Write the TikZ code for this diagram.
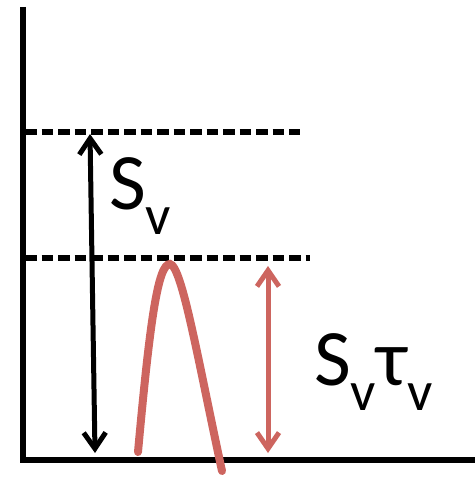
\documentclass[tikz,border=0pt]{standalone}
\usepackage{fontspec}
\setmainfont{Carlito}
\usetikzlibrary{arrows.meta}
\definecolor{curvered}{RGB}{205,101,95}
\tikzset{
  axisline/.style={line width=6pt},
  levelline/.style={line width=5.5pt, dash pattern=on 11.5pt off 5pt},
  gapdouble/.style={line width=5pt, {Straight Barb[length=16pt,width=22pt]}-{Straight Barb[length=16pt,width=22pt]}},
  lbl/.style={inner sep=0pt, anchor=base west, font=\fontsize{80}{82}\selectfont}
}
\newcommand{\subv}{\raisebox{-0.32em}{\fontsize{56}{58}\selectfont v}}
\begin{document}
\begin{tikzpicture}[x=1pt,y=-1pt]
\useasboundingbox (0,0) rectangle (475,478);
% axes
\coordinate (ytop) at (23,7);
\coordinate (origin) at (23,460);
\coordinate (xend) at (475,460);
\draw[axisline] (ytop) -- (origin) -- (xend);
% dashed levels
\coordinate (l1a) at (25,132);
\coordinate (l1b) at (300,132);
\coordinate (l2a) at (25,258);
\coordinate (l2b) at (310,258);
\draw[levelline] (l1a) -- (l1b);
\draw[levelline] (l2a) -- (l2b);
% black arrow
\coordinate (bt) at (90,134);
\coordinate (bb) at (95,453);
\draw[gapdouble] (bt) -- (bb);
% red curve
\coordinate (cs) at (138,452);
\coordinate (cp) at (170,264);
\coordinate (ce) at (222,471);
\draw[curvered, line width=8pt, line cap=round] (cs) .. controls (150,320) and (158,264) .. (cp) .. controls (182,266) and (198,360) .. (ce);
% red arrow
\coordinate (rt) at (268,266);
\coordinate (rb) at (268,453);
\draw[gapdouble, curvered] (rt) -- (rb);
% labels
\node[lbl] (sv) at (109,209) {S\subv};
\node[lbl] (svtv) at (314,385) {S\subv τ\subv};
\end{tikzpicture}
\end{document}
